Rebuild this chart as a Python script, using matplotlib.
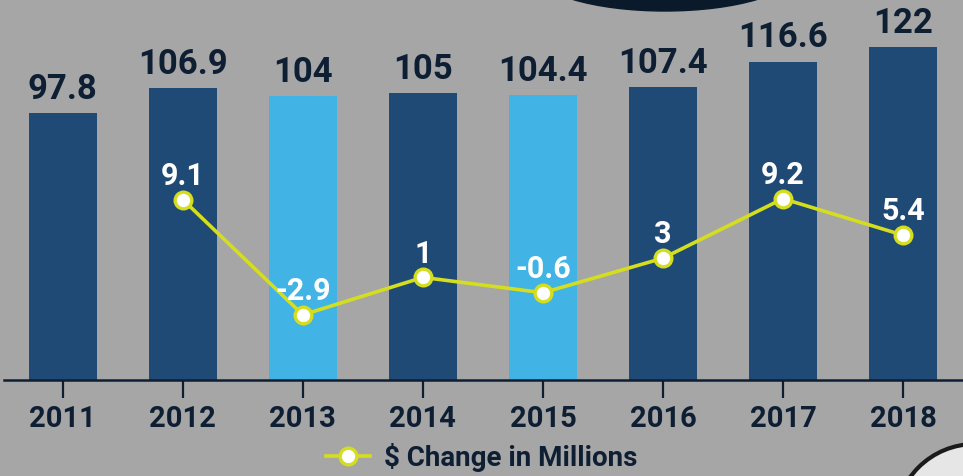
import numpy as np
import matplotlib.pyplot as plt
from matplotlib.patches import Ellipse
from matplotlib.lines import Line2D

years = ["2011", "2012", "2013", "2014", "2015", "2016", "2017", "2018"]
totals = [97.8, 106.9, 104, 105, 104.4, 107.4, 116.6, 122]
change = [np.nan, 9.1, -2.9, 1, -0.6, 3, 9.2, 5.4]
change_labels = ["", "9.1", "-2.9", "1", "-0.6", "3", "9.2", "5.4"]
highlight = ["2013", "2015"]

bg = "#a6a6a6"
dark = "#0e1f33"
navy = "#1f4a75"
sky = "#41b4e5"
lime = "#d4de1e"

plt.rcParams["font.family"] = ["Roboto", "DejaVu Sans"]
plt.rcParams["font.weight"] = "bold"

fig = plt.figure(figsize=(9.63, 4.77), dpi=100, facecolor=bg)
W, H = 963, 477

# decorative shapes (figure pixel coords)
fig.patches.append(Ellipse((665 / W, 1 + 28 / H), 262 / W, 80 / H,
                           transform=fig.transFigure, color="#0b1a2a", zorder=0))
fig.patches.append(Ellipse((975 / W, 1 - 525 / H), 160 / W, 160 / H,
                           transform=fig.transFigure, facecolor="#e6e6e6",
                           edgecolor="#1b1b1b", lw=3, zorder=0))

ax = fig.add_axes([4 / W, 96 / H, 959 / W, 381 / H])
ax.set_facecolor("none")
x = np.arange(len(years))
colors = [sky if y in highlight else navy for y in years]
ax.bar(x, totals, width=0.57, color=colors, zorder=2)
for xi, v in zip(x, totals):
    ax.annotate(f"{v:g}", (xi, v), xytext=(0, 6), textcoords="offset points",
                ha="center", va="bottom", fontsize=25, color=dark, fontweight="bold")

ax.set_xlim(-0.49, 7.5)
ax.set_ylim(0, 139.6)
ax.set_xticks(x)
ax.set_xticklabels(years, fontsize=21, color=dark, fontweight="bold")
ax.tick_params(axis="x", length=13, width=1.6, color=dark, pad=4)
ax.set_yticks([])
for s in ["top", "right", "left"]:
    ax.spines[s].set_visible(False)
ax.spines["bottom"].set_color(dark)
ax.spines["bottom"].set_linewidth(1.8)

ax2 = ax.twinx()
ax2.set_ylim(-9.69, 30)
ax2.set_yticks([])
for s in ax2.spines.values():
    s.set_visible(False)
ax2.plot(x, change, color=lime, lw=2.6, marker="o", markersize=12,
         markerfacecolor="white", markeredgecolor=lime, markeredgewidth=2.4, zorder=3)
for xi, v, lab in zip(x, change, change_labels):
    if lab:
        ax2.annotate(lab, (xi, v), xytext=(0, 7), textcoords="offset points",
                     ha="center", va="bottom", fontsize=22, color="white",
                     fontweight="bold")

handle = Line2D([], [], color=lime, lw=2.6, marker="o", markersize=12,
                markerfacecolor="white", markeredgecolor=lime, markeredgewidth=2.4)
fig.legend([handle], ["$ Change in Millions"], loc="center", bbox_to_anchor=(0.5, 1 - 458 / H),
           frameon=False, handlelength=1.6, handletextpad=0.5,
           prop={"size": 20, "weight": "bold"}, labelcolor=dark)

fig.savefig("out.png", dpi=100, facecolor=bg)
